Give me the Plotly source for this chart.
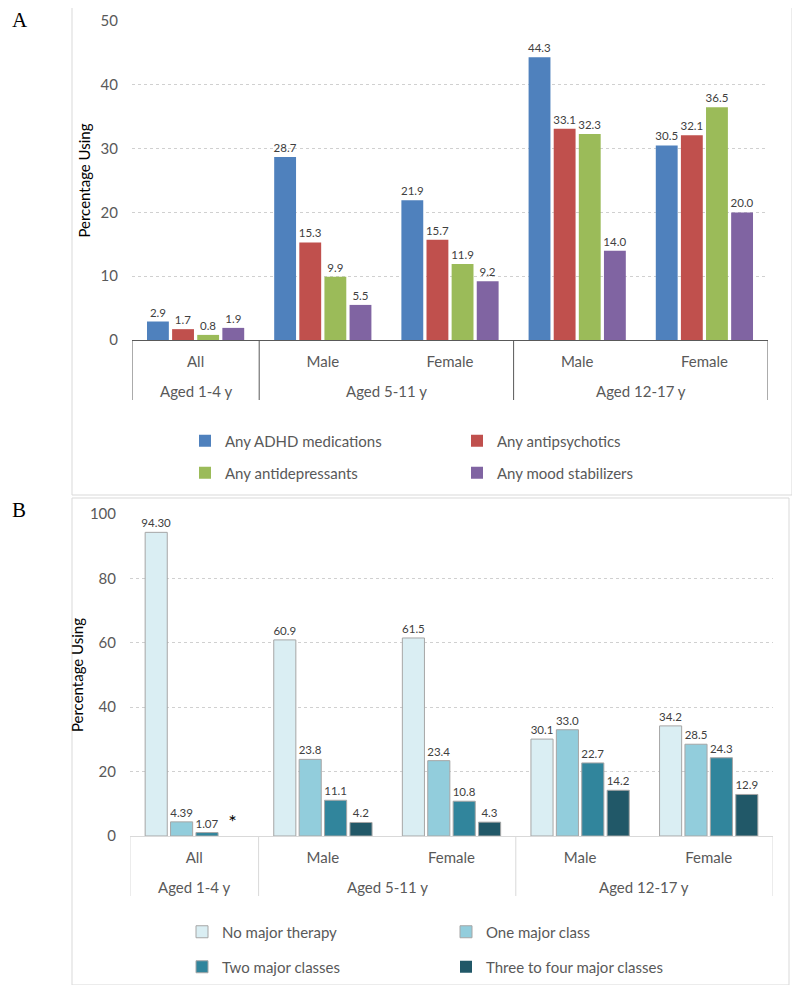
import plotly.graph_objects as go

age_groups = ["Aged 1-4 y", "Aged 5-11 y", "Aged 5-11 y", "Aged 12-17 y", "Aged 12-17 y"]
sex_groups = ["All", "Male", "Female", "Male", "Female"]

# Panel A
a_names = ["Any ADHD medications", "Any antipsychotics", "Any antidepressants", "Any mood stabilizers"]
a_adhd = [2.9, 28.7, 21.9, 44.3, 30.5]
a_antipsych = [1.7, 15.3, 15.7, 33.1, 32.1]
a_antidep = [0.8, 9.9, 11.9, 32.3, 36.5]
a_mood = [1.9, 5.5, 9.2, 14.0, 20.0]
a_colors = ["#4f81bd", "#c0504d", "#9bbb59", "#8064a2"]

# Panel B
b_names = ["No major therapy", "One major class", "Two major classes", "Three to four major classes"]
b_none = [94.30, 60.9, 61.5, 30.1, 34.2]
b_one = [4.39, 23.8, 23.4, 33.0, 28.5]
b_two = [1.07, 11.1, 10.8, 22.7, 24.3]
b_three = [0, 4.2, 4.3, 14.2, 12.9]
b_none_lbl = ["94.30", "60.9", "61.5", "30.1", "34.2"]
b_one_lbl = ["4.39", "23.8", "23.4", "33.0", "28.5"]
b_two_lbl = ["1.07", "11.1", "10.8", "22.7", "24.3"]
b_three_lbl = ["*", "4.2", "4.3", "14.2", "12.9"]
b_colors = ["#daeef3", "#92cddc", "#31859c", "#215868"]

FONT = "Lato"
GRAY = "#595959"
OFF = 8  # browser body margin
W, H = 800 - 2 * OFF, 993 - 2 * OFF

def px_x(x):
    return (x - OFF) / W

def px_y(y):
    return 1 - (y - OFF) / H

fig = go.Figure()
xpos = list(range(len(sex_groups)))

# group spans from the age group list
spans = []
for i, g in enumerate(age_groups):
    if spans and spans[-1][0] == g:
        spans[-1][2] = i
    else:
        spans.append([g, i, i])

a_series = [a_adhd, a_antipsych, a_antidep, a_mood]
a_legends = ["legend", "legend", "legend2", "legend2"]
for name, vals, col, lg in zip(a_names, a_series, a_colors, a_legends):
    fig.add_trace(go.Bar(
        x=xpos, y=vals, name=name, marker=dict(color=col, line=dict(width=0)),
        text=[f"{v:.1f}" for v in vals], textposition="outside", cliponaxis=False,
        constraintext="none",
        textfont=dict(size=11.5, color="#404040", family=FONT),
        xaxis="x", yaxis="y", legend=lg, hoverinfo="skip"))

b_series = [b_none, b_one, b_two, b_three]
b_labels = [b_none_lbl, b_one_lbl, b_two_lbl, b_three_lbl]
b_legends = ["legend3", "legend3", "legend4", "legend4"]
for name, vals, lbl, col, lg in zip(b_names, b_series, b_labels, b_colors, b_legends):
    sizes = [20 if t == "*" else 11.5 for t in lbl]
    cols = ["#000000" if t == "*" else "#404040" for t in lbl]
    lw = [0 if t == "*" else 1 for t in lbl]
    fig.add_trace(go.Bar(
        x=xpos, y=vals, name=name, marker=dict(color=col, line=dict(width=lw, color="#a6a6a6")),
        text=lbl, textposition="outside", cliponaxis=False, constraintext="none",
        textfont=dict(size=sizes, color=cols, family=FONT),
        xaxis="x2", yaxis="y2", legend=lg, hoverinfo="skip"))

xcommon = dict(showgrid=False, ticks="", showline=True, zeroline=False,
               tickmode="array", tickvals=xpos, ticktext=sex_groups,
               range=[-0.5, len(xpos) - 0.5],
               tickfont=dict(size=15, color=GRAY, family=FONT),
               ticklabelstandoff=8, automargin=False)
ycommon = dict(showgrid=True, griddash="3px,3px", gridcolor="#d0d0d0", gridwidth=1,
               zeroline=False, showline=False, ticks="", automargin=False,
               ticklabelstandoff=13,
               tickfont=dict(size=15, color=GRAY, family=FONT))

fig.update_layout(
    width=W, height=H, margin=dict(l=0, r=0, t=0, b=0, autoexpand=False),
    paper_bgcolor="white", plot_bgcolor="white",
    barmode="group", bargap=0.21, bargroupgap=0.13,
    showlegend=True,
    font=dict(family=FONT, color=GRAY),
    xaxis=dict(**xcommon, domain=[px_x(132), px_x(768)], anchor="y", linecolor="#595959"),
    yaxis=dict(**ycommon, domain=[px_y(340), px_y(21)], range=[0, 50], dtick=10, anchor="x",
               title=dict(text="Percentage Using", font=dict(size=15, color="#000000", family=FONT), standoff=6)),
    xaxis2=dict(**xcommon, domain=[px_x(130), px_x(773)], anchor="y2", linecolor="#d9d9d9"),
    yaxis2=dict(**ycommon, domain=[px_y(836), px_y(514)], range=[0, 100], dtick=20, anchor="x2",
                title=dict(text="Percentage Using", font=dict(size=15, color="#000000", family=FONT), standoff=2)),
)

# group labels and dividers under each category axis
for xr, axis_y, div_color in [("x", 340, "#595959"), ("x2", 836, "#d9d9d9")]:
    for g, i0, i1 in spans:
        fig.add_annotation(text=g, xref=xr, yref="paper", x=(i0 + i1) / 2, y=px_y(axis_y + 51),
                           xanchor="center", yanchor="middle", showarrow=False,
                           font=dict(size=15, color=GRAY, family=FONT))
    bounds = [spans[0][1] - 0.5] + [s[2] + 0.5 for s in spans]
    for b in bounds:
        fig.add_shape(type="line", xref=xr, yref="paper", x0=b, x1=b,
                      y0=px_y(axis_y), y1=px_y(axis_y + 60),
                      line=dict(color=div_color, width=1))

leg = dict(orientation="h", xanchor="left", yanchor="middle", bgcolor="rgba(0,0,0,0)",
           font=dict(size=15, color=GRAY, family=FONT), entrywidthmode="pixels",
           itemwidth=30, traceorder="normal")
fig.update_layout(
    legend=dict(**leg, x=px_x(185), y=px_y(441), entrywidth=227),
    legend2=dict(**leg, x=px_x(185), y=px_y(473), entrywidth=227),
    legend3=dict(**leg, x=px_x(182), y=px_y(932), entrywidth=219),
    legend4=dict(**leg, x=px_x(182), y=px_y(967), entrywidth=219),
)

# panel frames
for (x0, y0, x1, y1) in [(72, 7, 792, 495), (72, 498, 789, 985)]:
    fig.add_shape(type="rect", xref="paper", yref="paper",
                  x0=px_x(x0), x1=px_x(x1), y0=px_y(y0), y1=px_y(y1),
                  line=dict(color="#d9d9d9", width=1), layer="below")

for letter, yy in [("A", 20), ("B", 510)]:
    fig.add_annotation(text=letter, xref="paper", yref="paper", x=px_x(10), y=px_y(yy),
                       xanchor="left", yanchor="middle", showarrow=False,
                       font=dict(family="Liberation Serif", size=21, color="#000000"))

fig.write_html("out.html")
